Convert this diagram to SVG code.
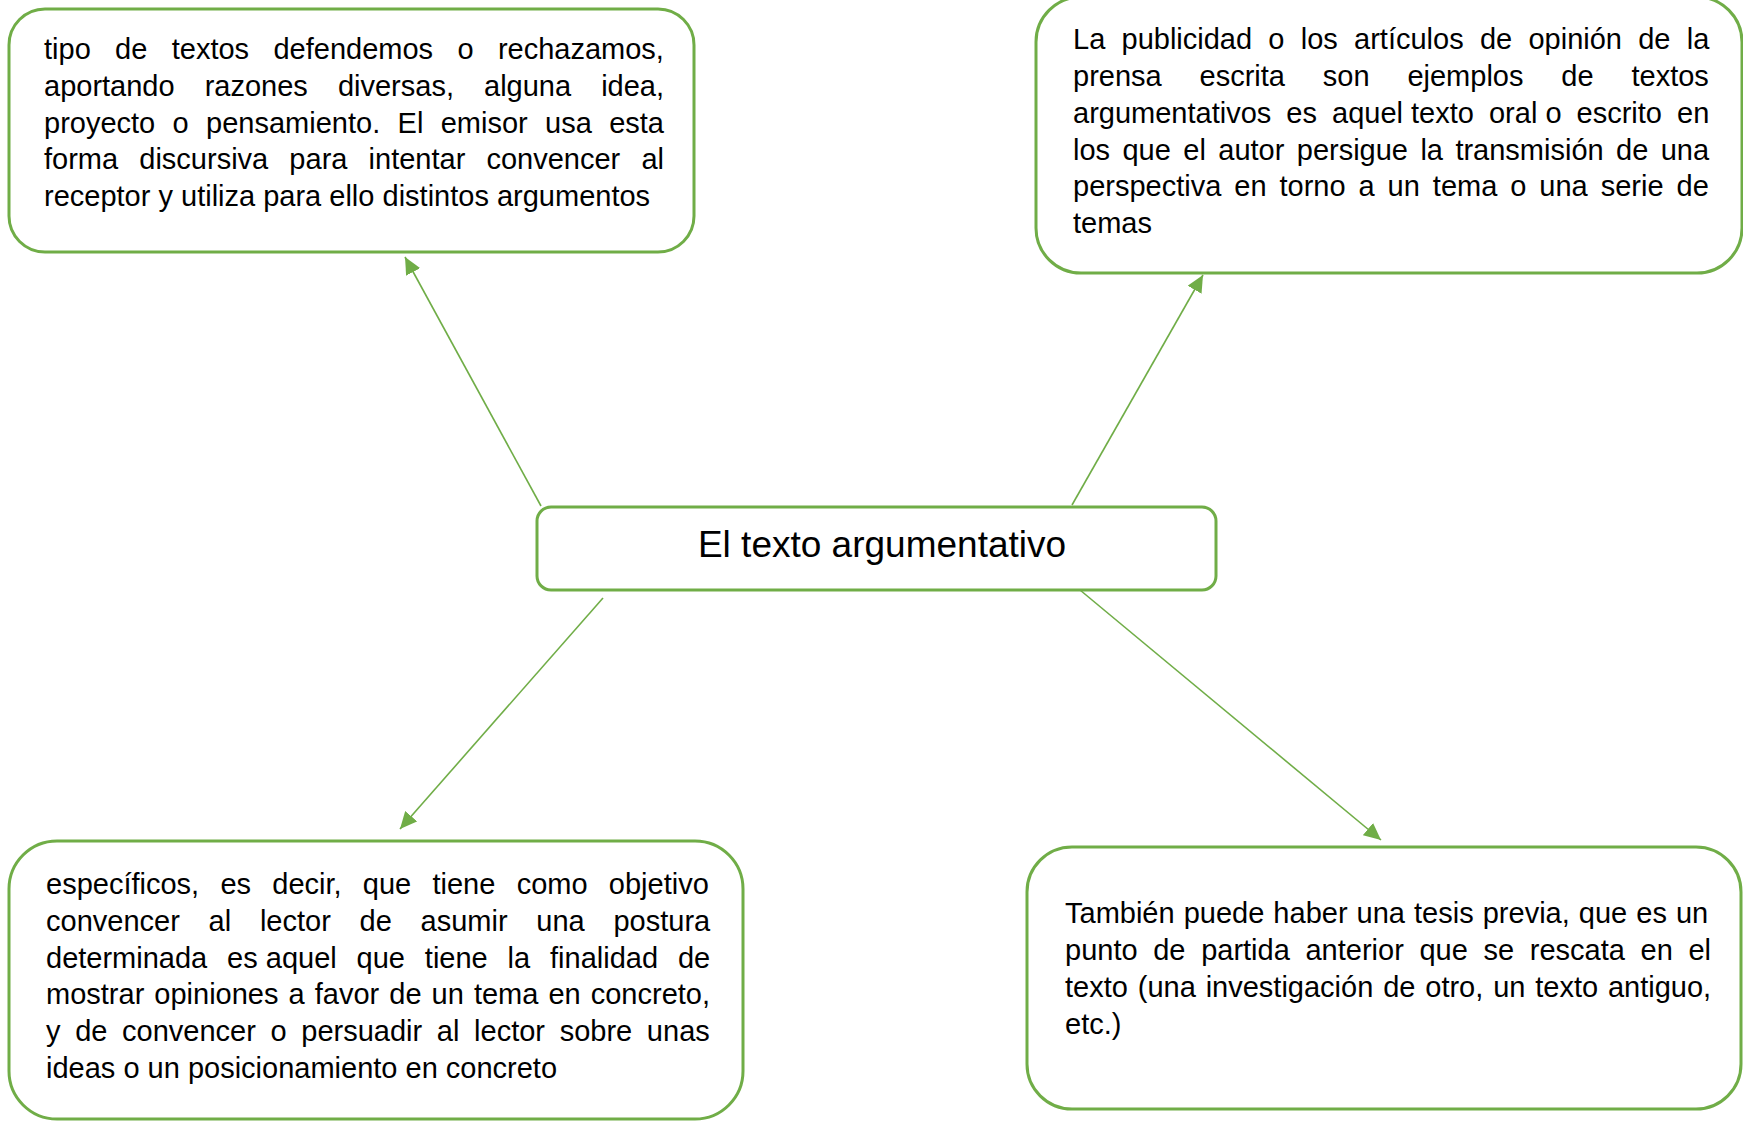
<svg xmlns="http://www.w3.org/2000/svg" width="1743" height="1123" viewBox="0 0 1743 1123">
<style>
.box{fill:#ffffff;stroke:#70AD47;stroke-width:3}
.con{stroke:#70AD47;stroke-width:1.6;fill:none}
.t{font-family:"Liberation Sans",Arial,sans-serif;font-size:29px;fill:#000000}
.title{font-family:"Liberation Sans",Arial,sans-serif;font-size:37px;fill:#000000}
</style>
<defs>
<marker id="ah" markerUnits="userSpaceOnUse" markerWidth="18" markerHeight="16" refX="17" refY="8" orient="auto">
<path d="M0,0 L17,8 L0,16 z" fill="#70AD47"/>
</marker>
</defs>
<rect width="1743" height="1123" fill="#ffffff"/>
<g id="connectors">
<line class="con" x1="541" y1="506" x2="405" y2="257" marker-end="url(#ah)"/>
<line class="con" x1="1072" y1="505" x2="1203" y2="275" marker-end="url(#ah)"/>
<line class="con" x1="603" y1="598" x2="400" y2="829" marker-end="url(#ah)"/>
<line class="con" x1="1080" y1="590" x2="1381" y2="840" marker-end="url(#ah)"/>
</g>
<g id="center">
<rect class="box" x="537" y="507" width="679" height="83" rx="14"/>
<text class="title" x="882" y="557" text-anchor="middle">El texto argumentativo</text>
</g>
<g id="top-left">
<rect class="box" x="9" y="9" width="685" height="243" rx="36"/>
<text class="t" x="44" y="59" word-spacing="16.3">tipo de textos defendemos o rechazamos,</text>
<text class="t" x="44" y="96" word-spacing="22">aportando razones diversas, alguna idea,</text>
<text class="t" x="44" y="133" word-spacing="9.3">proyecto o pensamiento. El emisor usa esta</text>
<text class="t" x="44" y="169" word-spacing="13.1">forma discursiva para intentar convencer al</text>
<text class="t" x="44" y="206">receptor y utiliza para ello distintos argumentos</text>
</g>
<g id="top-right">
<rect class="box" x="1036" y="-3" width="706" height="276" rx="45"/>
<text class="t" x="1073" y="49" word-spacing="8.2">La publicidad o los artículos de opinión de la</text>
<text class="t" x="1073" y="86" word-spacing="29.8">prensa escrita son ejemplos de textos</text>
<text class="t" x="1073" y="123" word-spacing="7">argumentativos es <tspan word-spacing="0">aquel texto</tspan> <tspan word-spacing="0">oral o</tspan> escrito en</text>
<text class="t" x="1073" y="160" word-spacing="4.35">los que el autor persigue la transmisión de una</text>
<text class="t" x="1073" y="196" word-spacing="4.9">perspectiva en torno a un tema o una serie de</text>
<text class="t" x="1073" y="233">temas</text>
</g>
<g id="bottom-left">
<rect class="box" x="9" y="841" width="734" height="278" rx="48"/>
<text class="t" x="46" y="894" word-spacing="13.2">específicos, es decir, que tiene como objetivo</text>
<text class="t" x="46" y="931" word-spacing="20.7">convencer al lector de asumir una postura</text>
<text class="t" x="46" y="968" word-spacing="11.8">determinada <tspan word-spacing="0">es aquel</tspan> que tiene la finalidad de</text>
<text class="t" x="46" y="1004" word-spacing="2">mostrar opiniones a favor de un tema en concreto,</text>
<text class="t" x="46" y="1041" word-spacing="6.6">y de convencer o persuadir al lector sobre unas</text>
<text class="t" x="46" y="1078">ideas o un posicionamiento en concreto</text>
</g>
<g id="bottom-right">
<rect class="box" x="1027" y="847" width="714" height="262" rx="45"/>
<text class="t" x="1065" y="923" word-spacing="1">También puede haber una tesis previa, que es un</text>
<text class="t" x="1065" y="960" word-spacing="7.6">punto de partida anterior que se rescata en el</text>
<text class="t" x="1065" y="997" word-spacing="1.8">texto (una investigación de otro, un texto antiguo,</text>
<text class="t" x="1065" y="1034">etc.)</text>
</g>
</svg>
